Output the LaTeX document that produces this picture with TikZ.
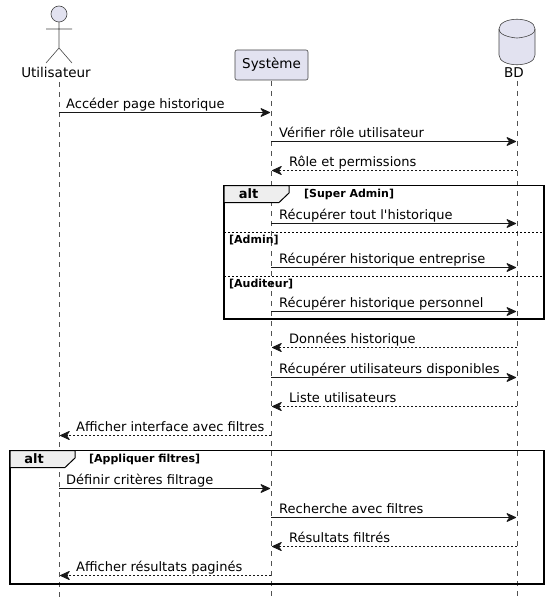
\documentclass[tikz,border=0pt]{standalone}
\usepackage{fontspec}
\setmainfont{DejaVu Sans}[Ligatures=TeXOff]
\usetikzlibrary{arrows.meta}
\definecolor{part}{HTML}{E2E2F0}
\definecolor{ink}{HTML}{181818}
\definecolor{tabfill}{HTML}{EEEEEE}
\tikzset{
  lifeline/.style={draw=ink!75!white,line width=.5pt,dash pattern=on 5pt off 5pt},
  tipstyle/.style={-{Stealth[length=11pt,width=10pt,inset=3.5pt,round]}},
  sync/.style={draw=ink,line width=1pt,tipstyle},
  reply/.style={draw=ink,line width=.8pt,dash pattern=on 2pt off 2pt,tipstyle},
  msgtext/.style={anchor=base west,inner sep=0pt,font=\fontsize{13}{15}\selectfont,text=black},
  guard/.style={anchor=base west,inner sep=0pt,font=\fontsize{11}{13}\selectfont\bfseries,text=black},
  alttext/.style={anchor=center,inner sep=0pt,font=\fontsize{13}{15}\selectfont\bfseries,text=black},
  partlabel/.style={anchor=base,inner sep=0pt,font=\fontsize{13.5}{16}\selectfont,text=black},
  shapeline/.style={draw=ink!80!white,line width=.6pt,fill=part},
  frameline/.style={draw=black,line width=1.5pt},
  tabline/.style={draw=black,line width=1pt,fill=tabfill},
  divider/.style={draw=black,line width=.7pt,dash pattern=on 2pt off 2pt},
}
% \msgline{style}{from}{to}{y}{text}{text x}
\newcommand{\msgline}[6]{%
  \coordinate (s#4) at (#2,#4+.5);
  \coordinate (e#4) at (#3,#4+.5);
  \draw[#1] (s#4) -- (e#4);
  \node[msgtext] (t#4) at (#6,#4-3.9) {#5};
}
\begin{document}
\begin{tikzpicture}[x=1pt,y=-1pt]
\useasboundingbox (0,0) rectangle (550,607);
\fill[white] (0,0) rectangle (550,607);

% lifelines
\coordinate (utop) at (59,82);
\coordinate (ubot) at (59,597);
\coordinate (stop) at (271,81);
\coordinate (sbot) at (271,597);
\coordinate (btop) at (517,81);
\coordinate (bbot) at (517,597);
\draw[lifeline] (utop) -- (ubot);
\draw[lifeline] (stop) -- (sbot);
\draw[lifeline] (btop) -- (bbot);

% actor
\draw[shapeline] (59,14) circle (8);
\draw[shapeline,fill=none] (59,22) -- (59,48) (46,29) -- (72,29) (46,63) -- (59,48) -- (72,63);
\node[partlabel] (ulabel) at (56,78) {Utilisateur};

% system
\node[shapeline,rounded corners=2pt,minimum width=73pt,minimum height=30pt,inner sep=0pt,
      font=\fontsize{13.5}{16}\selectfont,text=black] (sys) at (271.5,65) {Système};

% database
\draw[shapeline] (499,29) .. controls (499,16) and (535,16) .. (535,29)
  -- (535,55) .. controls (535,68) and (499,68) .. (499,55) -- cycle;
\draw[shapeline,fill=none] (499,29) .. controls (499,37) and (517,38) .. (517,38)
  .. controls (517,38) and (535,37) .. (535,29);
\node[partlabel] (bdlabel) at (514,78) {BD};

% messages before first frame
\msgline{sync}{59}{270}{112}{Accéder page historique}{66}
\msgline{sync}{271}{516}{141}{Vérifier rôle utilisateur}{279}
\msgline{reply}{517}{272}{170}{Rôle et permissions}{289}

% first alt frame
\draw[frameline] (224,185.5) rectangle (544,319);
\draw[tabline] (224,185.5) -- (289,185.5) -- (289,193) -- (279,202.5) -- (224,202.5) -- cycle;
\node[alttext] (alta) at (248.5,194) {alt};
\node[guard] (ga) at (304,197) {[Super Admin]};
\coordinate (da1) at (224,232);
\coordinate (da2) at (544,232);
\draw[divider] (da1) -- (da2);
\node[guard] (gb) at (229,243) {[Admin]};
\coordinate (db1) at (224,276);
\coordinate (db2) at (544,276);
\draw[divider] (db1) -- (db2);
\node[guard] (gc) at (229,287) {[Auditeur]};
\msgline{sync}{271}{516}{223}{Récupérer tout l'historique}{279}
\msgline{sync}{271}{516}{267}{Récupérer historique entreprise}{279}
\msgline{sync}{271}{516}{311}{Récupérer historique personnel}{279}

% between frames
\msgline{reply}{517}{272}{347}{Données historique}{289}
\msgline{sync}{271}{516}{377}{Récupérer utilisateurs disponibles}{279}
\msgline{reply}{517}{272}{406}{Liste utilisateurs}{289}
\msgline{reply}{271}{60}{435}{Afficher interface avec filtres}{76}

% second alt frame
\draw[frameline] (10,450.5) rectangle (544,584);
\draw[tabline] (10,450.5) -- (75,450.5) -- (75,458) -- (65,467.5) -- (10,467.5) -- cycle;
\node[alttext] (altb) at (34,459) {alt};
\node[guard] (gd) at (89,462) {[Appliquer filtres]};
\msgline{sync}{59}{270}{488}{Définir critères filtrage}{66}
\msgline{sync}{271}{516}{517}{Recherche avec filtres}{279}
\msgline{reply}{517}{272}{546}{Résultats filtrés}{289}
\msgline{reply}{271}{60}{575}{Afficher résultats paginés}{76}
\end{tikzpicture}
\end{document}
